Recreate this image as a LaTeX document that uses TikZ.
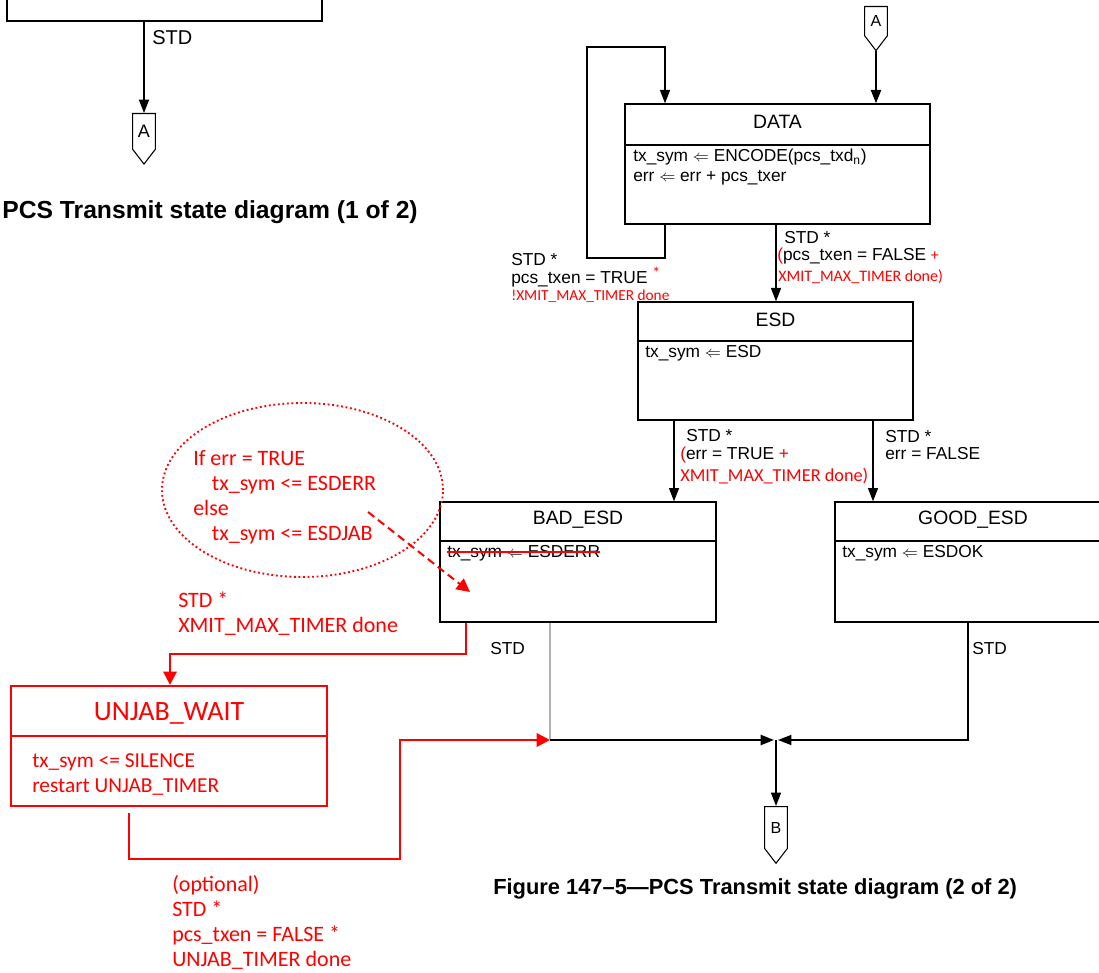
\documentclass[tikz,border=0pt]{standalone}
\usepackage{fontspec}
\setmainfont{Liberation Sans}
\newfontfamily\calfont{Carlito}
\usepackage{tikz}
\usetikzlibrary{arrows.meta,positioning,fit,calc,shapes.geometric,shapes.symbols}
\definecolor{MarkRed}{HTML}{FF0000}
\definecolor{LineGray}{HTML}{B0B0B0}
\newcommand{\assign}{$\Leftarrow$}
\newcommand{\redsm}[1]{\textcolor{MarkRed}{\calfont\fontsize{12}{12}\selectfont #1}}

\begin{document}
\begin{tikzpicture}[x=0.75pt,y=-0.75pt,
lbl/.style={font=\fontsize{13}{13}\selectfont,inner sep=0pt,align=left},
ttl/.style={font=\fontsize{14.5}{17}\selectfont,inner sep=0pt},
redlbl/.style={text=MarkRed,font=\calfont\fontsize{16.5}{18.75}\selectfont,inner sep=0pt,align=left},
statebox/.style={draw,line width=1pt,inner sep=0pt},
sep/.style={line width=1pt},
arr/.style={line width=1pt,-{Triangle[length=10pt,width=7.5pt]}},
redarr/.style={draw=MarkRed,line width=1.8pt,-{Triangle[length=10pt,width=10pt]}},
offpage/.style={draw,line width=0.8pt,fill=white,shape=signal,signal to=south,signal pointer angle=75,minimum width=17pt,minimum height=30pt,inner sep=1pt,font=\fontsize{12}{14}\selectfont}]
\useasboundingbox (0,0) rectangle (1099,973);
\clip (0,0) rectangle (1099,973);

\node[statebox,fit={(7,-40) (322,21)}] (prev) {};
\node[offpage,anchor=north,minimum height=34pt,font=\fontsize{13.5}{15}\selectfont] (conA) at (144,113) {A};
\draw[arr] (prev.south -| conA.north) -- (conA.north);
\node[lbl,anchor=west,font=\fontsize{15}{15}\selectfont] (std0) at (152,38) {STD};
\node[font=\bfseries\fontsize{18.5}{22}\selectfont,anchor=east,inner sep=0pt] (cap1) at (418,212) {PCS Transmit state diagram (1 of 2)};

\node[offpage,anchor=north,minimum height=28.5pt] (conA2) at (876,6) {A};
\node[statebox,fit={(625,104) (930,224)}] (data) {};
\draw[sep] (data.west |- 0,145) -- (data.east |- 0,145);
\node[ttl] (data-t) at (777.5,122) {DATA};
\node[lbl,anchor=north west,font=\fontsize{13}{14.5}\selectfont] (data-b) at (633,149) {tx\_sym \assign{} ENCODE(pcs\_txd\textsubscript{n})\\err \assign{} err + pcs\_txer};
\draw[arr,line width=1.6pt] (conA2.south) -- (data.north -| conA2.south);
\draw[arr] (data.south -| 665,0) -- (665,258) -- (587,258) -- (587,47) -- (665,47) -- (data.north -| 665,0);
\node[lbl,anchor=west] (loop-1) at (511,260) {STD *};
\node[lbl,anchor=west] (loop-2) at (511,277) {pcs\_txen = TRUE \raisebox{4pt}{\redsm{*}}};
\node[redlbl,anchor=west,font=\calfont\fontsize{11.5}{12}\selectfont] (loop-3) at (511,296) {!XMIT\_MAX\_TIMER done};

\node[statebox,fit={(638,302) (913,420)}] (esd) {};
\draw[sep] (esd.west |- 0,341) -- (esd.east |- 0,341);
\node[ttl] (esd-t) at (775.5,320) {ESD};
\node[lbl,anchor=north west] (esd-b) at (645,345) {tx\_sym \assign{} ESD};
\draw[arr] (data.south -| 776,0) -- (esd.north -| 776,0);
\node[lbl,anchor=west] (end-1) at (784,238) {STD *};
\node[lbl,anchor=west] (end-2) at (777,256) {\textcolor{MarkRed}{(}pcs\_txen = FALSE \redsm{+}};
\node[redlbl,anchor=west,font=\calfont\fontsize{12}{12}\selectfont] (end-3) at (778,277) {XMIT\_MAX\_TIMER done)};

\node[statebox,fit={(440,502) (716,622)}] (bad) {};
\draw[sep] (bad.west |- 0,541) -- (bad.east |- 0,541);
\node[ttl] (bad-t) at (578,520) {BAD\_ESD};
\node[lbl,anchor=north west] (bad-b) at (447,545) {tx\_sym \assign{} ESDERR};
\draw[MarkRed,line width=1.8pt] ([yshift=4pt]bad-b.base west) -- ([yshift=4pt]bad-b.base east);

\node[statebox,fit={(835,502) (1110,622)}] (good) {};
\draw[sep] (good.west |- 0,541) -- (good.east |- 0,541);
\node[ttl] (good-t) at (973,520) {GOOD\_ESD};
\node[lbl,anchor=north west] (good-b) at (842,545) {tx\_sym \assign{} ESDOK};

\draw[arr] (esd.south -| 674,0) -- (bad.north -| 674,0);
\draw[arr] (esd.south -| 873,0) -- (good.north -| 873,0);
\node[lbl,anchor=west] (bad-1) at (686,436) {STD *};
\node[lbl,anchor=west] (bad-2) at (680,455) {\textcolor{MarkRed}{(}err = TRUE \textcolor{MarkRed}{+}};
\node[redlbl,anchor=west,font=\calfont\fontsize{13.7}{14}\selectfont] (bad-3) at (680,476) {XMIT\_MAX\_TIMER done)};
\node[lbl,anchor=north west] (good-1) at (885,430) {STD *\\err = FALSE};

\coordinate (merge) at (550,740);
\coordinate (join) at (776,740);
\draw[LineGray,line width=1pt] (bad.south -| merge) -- (merge);
\draw[arr,line width=1.6pt,shorten >=1.5pt] (merge) -- (join);
\draw[arr,shorten >=1.5pt] (good.south -| 968,0) -- (968,740) -- (join);
\node[offpage,anchor=north,minimum height=38pt] (conB) at (776,806) {B};
\draw[arr] (join) -- (conB.north);
\node[lbl,anchor=west] (std-bad) at (490,649) {STD};
\node[lbl,anchor=west] (std-good) at (972,649) {STD};

\node[draw=MarkRed,line width=1.7pt,inner sep=0pt,fit={(11,686) (327,806)}] (unjab) {};
\draw[MarkRed,line width=1.7pt] (unjab.west |- 0,736) -- (unjab.east |- 0,736);
\node[redlbl,font=\calfont\fontsize{21}{24}\selectfont] (unjab-t) at (169,713) {UNJAB\_WAIT};
\node[redlbl,anchor=north west,font=\calfont\fontsize{16}{18.75}\selectfont] (unjab-b) at (32,753) {tx\_sym <= SILENCE\\restart UNJAB\_TIMER};
\draw[redarr] (bad.south -| 466,0) -- (466,654) -- (170,654) -- (unjab.north -| 170,0);
\draw[redarr] ([yshift=-4.5pt]unjab.south -| 129,0) -- (129,859) -- (400,859) -- (400,740) -- (merge);
\node[redlbl,anchor=north west] (jab-lbl) at (178,592) {STD *\\XMIT\_MAX\_TIMER done};
\node[redlbl,anchor=north west] (opt-lbl) at (172,875) {(optional)\\STD *\\pcs\_txen = FALSE *\\UNJAB\_TIMER done};

\node[draw=MarkRed,ellipse,line width=1.4pt,dash pattern=on 1.4pt off 2pt,minimum width=210.75pt,minimum height=130.5pt] (note) at (302.5,490) {};
\node[redlbl,anchor=north west] (note-t) at (193,450) {If err = TRUE\\\hspace*{14pt}tx\_sym <= ESDERR\\else\\\hspace*{14pt}tx\_sym <= ESDJAB};
\coordinate (note-tail) at (368,512);
\coordinate (note-head) at (470,592);
\draw[MarkRed,line width=1.5pt,dash pattern=on 6pt off 3.5pt,-{Triangle[length=10pt,width=10pt]}] (note-tail) -- (note-head);

\node[font=\bfseries\fontsize{16.4}{20}\selectfont,anchor=west,inner sep=0pt] (cap2) at (493,889) {Figure 147–5—PCS Transmit state diagram (2 of 2)};
\end{tikzpicture}
\end{document}
